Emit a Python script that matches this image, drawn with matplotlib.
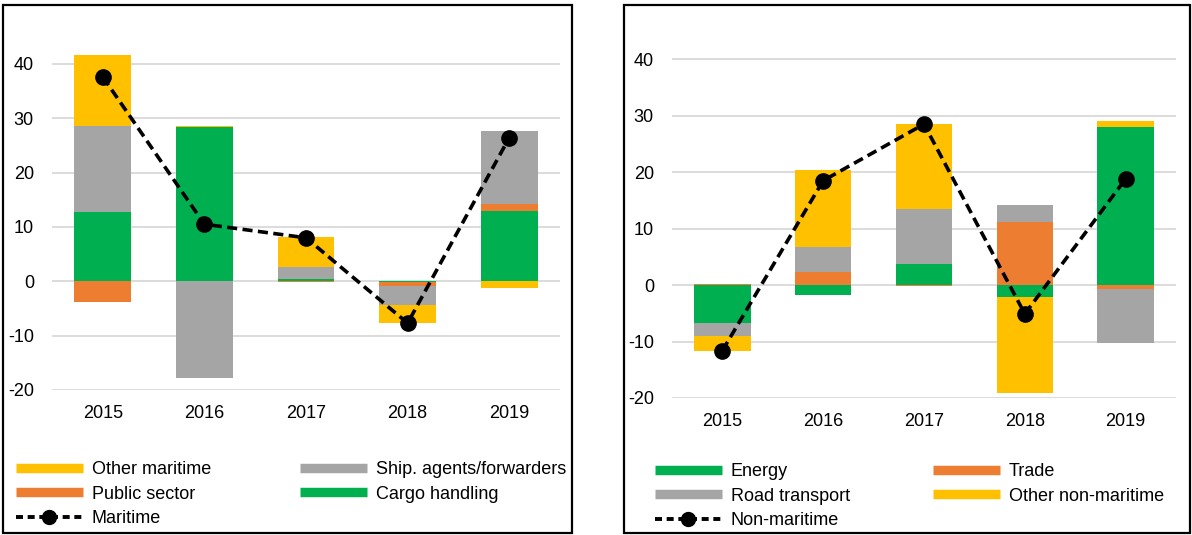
import numpy as np
import matplotlib.pyplot as plt
from matplotlib.lines import Line2D
from matplotlib.patches import Rectangle

plt.rcParams['font.family'] = ['Liberation Sans', 'DejaVu Sans']
plt.rcParams['axes.unicode_minus'] = False

years = ['2015', '2016', '2017', '2018', '2019']

# Maritime sectors (stack order as in the source)
cargo_handling = [12.8, 28.3, 0.4, -0.2, 12.9]
public_sector = [-3.9, 0.0, -0.1, -0.7, 1.3]
ship_agents = [15.8, -17.8, 2.2, -3.4, 13.4]
other_maritime = [13.0, 0.2, 5.6, -3.3, -1.2]
maritime = [37.6, 10.5, 8.0, -7.7, 26.4]

# Non-maritime sectors
energy = [-6.8, -1.8, 3.8, -2.2, 28.0]
trade = [0.2, 2.4, -0.1, 11.1, -0.7]
road_transport = [-2.2, 4.4, 9.6, 3.0, -9.6]
other_non_maritime = [-2.6, 13.6, 15.2, -16.9, 1.1]
non_maritime = [-11.6, 18.5, 28.5, -5.1, 18.8]

YELLOW = '#FFC000'
GREY = '#A5A5A5'
ORANGE = '#ED7D31'
GREEN = '#00B050'

W, H = 1192, 535
fig = plt.figure(figsize=(W / 100, H / 100), dpi=100)


def px_axes(x0, x1, y_top, y_bot):
    return fig.add_axes([x0 / W, 1 - y_bot / H, (x1 - x0) / W, (y_bot - y_top) / H])


def stacked(ax, series, colors, line, ymin, ymax):
    x = np.arange(len(years))
    pos = np.zeros(len(years))
    neg = np.zeros(len(years))
    for vals, c in zip(series, colors):
        v = np.array(vals)
        bottom = np.where(v >= 0, pos, neg)
        ax.bar(x, v, bottom=bottom, width=0.56, color=c, zorder=2)
        pos = pos + np.where(v >= 0, v, 0)
        neg = neg + np.where(v < 0, v, 0)
    ax.plot(x, line, color='black', lw=2.6, ls=(0, (2.8, 1.5)),
            marker='o', ms=11, zorder=3)
    ax.set_xlim(-0.5, len(years) - 0.5)
    ax.set_ylim(ymin, ymax)
    ax.set_yticks(range(-20, 41, 10))
    ax.set_xticks(x)
    ax.set_xticklabels(years)
    ax.grid(axis='y', color='#D9D9D9', lw=1.3, zorder=0)
    ax.set_axisbelow(True)
    for s in ax.spines.values():
        s.set_visible(False)
    ax.tick_params(length=0, labelsize=13)
    ax.tick_params(axis='x', pad=11)
    ax.tick_params(axis='y', pad=13)


ax1 = px_axes(52, 560, 36.7, 390)
stacked(ax1, [cargo_handling, public_sector, ship_agents, other_maritime],
        [GREEN, ORANGE, GREY, YELLOW], maritime, -20, 45)

ax2 = px_axes(672, 1176, 31, 398)
stacked(ax2, [energy, trade, road_transport, other_non_maritime],
        [GREEN, ORANGE, GREY, YELLOW], non_maritime, -20, 45)

# panel frames
for x0, x1 in [(3, 572), (624, 1190)]:
    fig.patches.append(Rectangle((x0 / W, 2 / H), (x1 - x0) / W, 528 / H,
                                 transform=fig.transFigure, fill=False,
                                 ec='black', lw=1.6))


def patch(c):
    return Line2D([], [], color=c, lw=6.8, solid_capstyle='butt')


def dline():
    return Line2D([], [], color='black', lw=2.8, ls=(0, (1.8, 1.2)),
                  marker='o', ms=10)


def col_legend(handles, labels, x, y):
    fig.legend(handles, labels, loc='upper left',
               bbox_to_anchor=(x / W, 1 - y / H), frameon=False,
               fontsize=13, handlelength=3.7, handletextpad=0.5,
               labelspacing=0.42, borderaxespad=0, borderpad=0)


col_legend([patch(YELLOW), patch(ORANGE), dline()],
           ['Other maritime', 'Public sector', 'Maritime'], 16, 461)
col_legend([patch(GREY), patch(GREEN)],
           ['Ship. agents/forwarders', 'Cargo handling'], 300, 461)
col_legend([patch(GREEN), patch(GREY), dline()],
           ['Energy', 'Road transport', 'Non-maritime'], 655, 463)
col_legend([patch(ORANGE), patch(YELLOW)],
           ['Trade', 'Other non-maritime'], 933, 463)

fig.savefig('out.png', dpi=100)
